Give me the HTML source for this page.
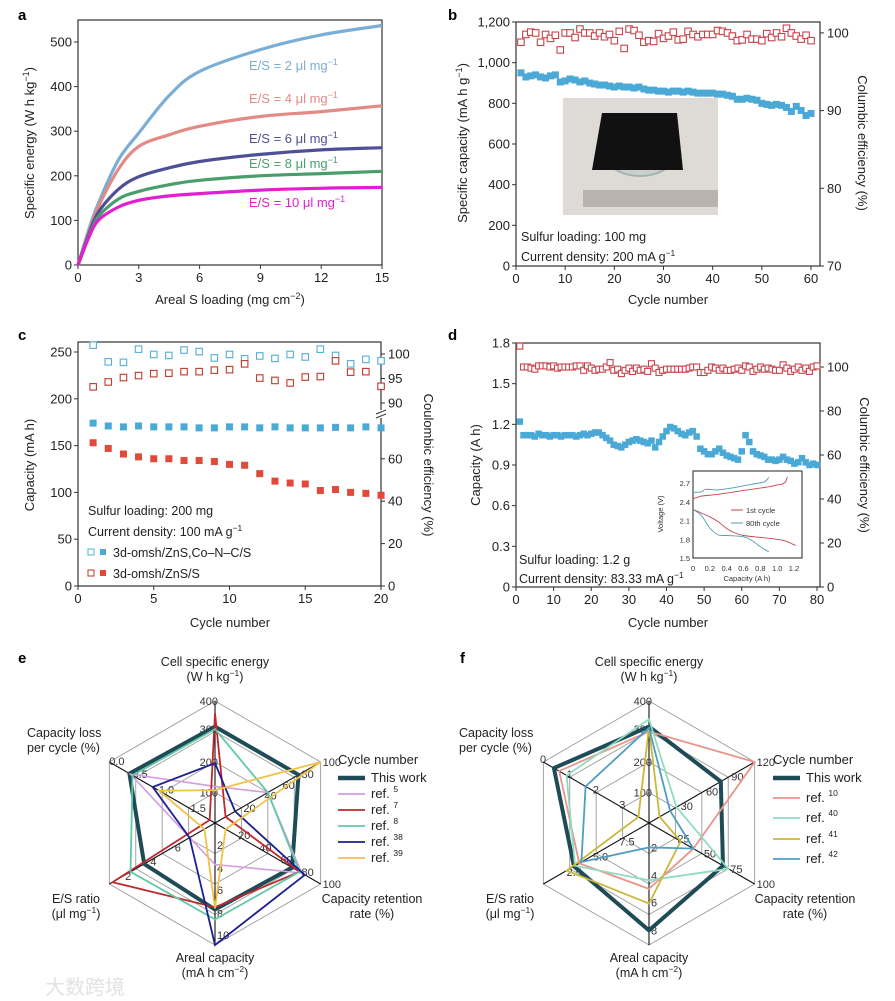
<!DOCTYPE html>
<html><head><meta charset="utf-8"><style>
html,body{margin:0;padding:0;background:#fff;}
svg{display:block;font-family:"Liberation Sans","Noto Sans CJK SC",sans-serif;}
</style></head><body>
<svg id="fig" width="895" height="1001" viewBox="0 0 895 1001" xmlns="http://www.w3.org/2000/svg">
<rect x="0" y="0" width="895" height="1001" fill="#fff"/>
<text x="45" y="994" font-size="20" fill="#e2e2e2">大数跨境</text>
<g font-weight="bold" font-size="15" fill="#000">
<text x="18" y="20">a</text>
<text x="448" y="20">b</text>
<text x="18" y="340">c</text>
<text x="448" y="340">d</text>
<text x="18" y="663">e</text>
<text x="460" y="663">f</text>
</g>
<g font-size="13" fill="#222">
<text transform="translate(34,143) rotate(-90)" text-anchor="middle">Specific energy (W h kg<tspan dy="-5" font-size="9">−1</tspan><tspan dy="5">)</tspan></text>
<text x="230" y="304" text-anchor="middle">Areal S loading (mg cm<tspan dy="-5" font-size="9">−2</tspan><tspan dy="5">)</tspan></text>
<text transform="translate(467,143) rotate(-90)" text-anchor="middle">Specific capacity (mA h g<tspan dy="-5" font-size="9">−1</tspan><tspan dy="5">)</tspan></text>
<text transform="translate(858,143) rotate(90)" text-anchor="middle">Columbic efficiency (%)</text>
<text x="668" y="304" text-anchor="middle">Cycle number</text>
<text transform="translate(34,465) rotate(-90)" text-anchor="middle">Capacity (mA h)</text>
<text transform="translate(424,465) rotate(90)" text-anchor="middle">Coulombic efficiency (%)</text>
<text x="230" y="627" text-anchor="middle">Cycle number</text>
<text transform="translate(480,465) rotate(-90)" text-anchor="middle">Capacity (A h)</text>
<text transform="translate(860,465) rotate(90)" text-anchor="middle">Columbic efficiency (%)</text>
<text x="668" y="627" text-anchor="middle">Cycle number</text>
</g>
<g font-size="12.5" fill="#222">
<text x="521" y="241">Sulfur loading: 100 mg</text>
<text x="521" y="261">Current density: 200 mA g<tspan dy="-5" font-size="8.5">−1</tspan></text>
<text x="88" y="515">Sulfur loading: 200 mg</text>
<text x="88" y="536">Current density: 100 mA g<tspan dy="-5" font-size="8.5">−1</tspan></text>
<text x="113" y="557">3d-omsh/ZnS,Co–N–C/S</text>
<text x="113" y="578">3d-omsh/ZnS/S</text>
<text x="519" y="564">Sulfur loading: 1.2 g</text>
<text x="519" y="583">Current density: 83.33 mA g<tspan dy="-5" font-size="8.5">−1</tspan></text>
</g>
<g id="layer"></g>
</svg>
<script>
// ---------- DATA ----------
const aX=[0,0.5,1,2,3,4.5,6,9,12,15];
const aES2=[0,75,138,236,296,380,434,483,516,537];
const aES4=[0,70,130,215,266,292,311,333,344,357];
const aES6=[0,65,118,170,198,218,232,248,258,263];
const aES8=[0,60,108,148,165,180,190,200,205,210];
const aES10=[0,58,100,130,145,155,160,168,172,174];
const aLabels=["E/S = 2 μl mg","E/S = 4 μl mg","E/S = 6 μl mg","E/S = 8 μl mg","E/S = 10 μl mg"];
const aXTicks=[0,3,6,9,12,15];
const aYTicks=[0,100,200,300,400,500];

const bCap=[950,930,935,940,930,925,935,940,905,910,920,915,905,910,900,895,890,890,885,880,885,880,880,875,880,870,865,865,860,860,855,860,860,855,860,855,850,850,850,850,845,845,840,835,820,820,825,820,815,800,795,790,795,790,780,760,785,765,740,750];
const bCE=[98.8,99.8,100.1,100,98.8,99.8,99.3,99.7,97.8,100,100,99.4,100.5,100,100,99.6,100,99.5,99.8,99,100.2,98,100.5,100.3,99.7,98.8,99,98.9,99.9,99.3,99.6,100.1,99.1,99.2,100.2,99.8,99.5,99.8,99.8,99.8,100.3,100.2,100,99.6,99,99.1,99.8,99.2,99.2,99,99.9,99.4,100,99.5,100.6,100,99.6,99.2,99.7,99];
const bXTicks=[0,10,20,30,40,50,60];
const bYTicks=[0,200,400,600,800,1000,1200];
const bY2Ticks=[70,80,90,100];

const cCapCo=[174,171,170,171,170,170,170,169,169,170,170,169,170,169,169,169,169.5,169,170,169];
const cCapZn=[153,147,141,138,136,136,134,134,133,130,129,120,112,110,109,102,103,100,99,97];
const cCECo=[101.8,98.4,98.3,101,99.9,99.7,100.8,100.5,99.2,99.9,99,99.6,99.1,99.9,99.4,101,99.7,98,98.9,98.6];
const cCEZn=[93.3,94.3,95.2,95.6,96,96.1,96.4,96.4,96.7,96.8,98,95.1,94.6,94.1,95.3,95.4,98.6,96.3,96.4,93.4];
const cXTicks=[0,5,10,15,20];
const cYTicks=[0,50,100,150,200,250];
const cY2Ticks=[0,20,40,60,90,95,100];

const dCap=[1.22,1.12,1.12,1.12,1.11,1.13,1.12,1.12,1.11,1.12,1.12,1.11,1.12,1.12,1.12,1.11,1.12,1.13,1.12,1.13,1.14,1.14,1.12,1.10,1.08,1.05,1.04,1.03,1.05,1.07,1.08,1.09,1.08,1.07,1.06,1.08,1.03,1.07,1.11,1.15,1.18,1.17,1.15,1.13,1.12,1.14,1.15,1.11,1.02,1.0,0.98,0.98,1.0,1.02,0.99,0.97,0.96,0.95,0.94,1.0,1.12,1.07,1.0,0.98,0.97,0.96,0.94,0.94,0.93,0.94,0.96,0.94,0.93,0.91,0.92,0.95,0.92,0.9,0.91,0.9];
const dCE=[109.5,100,100,99.5,99,100.5,100.5,100.5,100,100.5,99.5,100,100,100,100,100.5,100.5,98.5,100.5,99.5,98.5,99,99,100,102,98.5,99,97,98.5,99.5,98,99.5,98.5,99,98,101.5,99.5,97.5,98.5,99,99,99,99,99,99,99.5,100,100,97.5,97.5,98.5,100,99.5,98.5,99.5,98.5,98.5,99,99.5,98.5,100.5,100,98,99,100,99,99.5,99,98.5,98.5,101,99.5,98,99,100,98.5,99.5,98,100,100.5];
const dXTicks=[0,10,20,30,40,50,60,70,80];
const dYTicks=[0,0.3,0.6,0.9,1.2,1.5,1.8];
const dY2Ticks=[0,20,40,60,80,100];

const inCap1C=[0,0.05,0.1,0.3,0.5,0.7,0.9,1.0,1.05,1.1,1.12];
const inV1C=[2.45,2.47,2.49,2.52,2.56,2.6,2.64,2.67,2.68,2.72,2.8];
const inCap80C=[0,0.1,0.15,0.3,0.5,0.7,0.85,0.9];
const inV80C=[2.55,2.56,2.6,2.59,2.63,2.68,2.72,2.79];
const inCap1D=[0,0.1,0.2,0.3,0.4,0.5,0.6,0.8,1.0,1.1,1.22];
const inV1D=[2.28,2.22,2.16,2.08,1.97,1.9,1.86,1.83,1.8,1.77,1.7];
const inCap80D=[0,0.1,0.2,0.3,0.4,0.6,0.7,0.8,0.9];
const inV80D=[2.28,2.18,1.98,1.87,1.86,1.84,1.78,1.68,1.6];
const inXTicks=[0,0.2,0.4,0.6,0.8,1.0,1.2];
const inYTicks=[1.5,1.8,2.1,2.4,2.7];

const eThis=[0.79,0.79,0.73,0.71,0.67,0.81];
const eRef5=[0.3,0.5,0.82,0.34,0.24,0.8];
const eRef7=[0.9,0.1,0.8,0.69,0.97,0.05];
const eRef8=[0.77,0.5,0.8,0.79,0.8,0.78];
const eRef38=[0.49,0.19,0.85,1.0,0.24,0.59];
const eRef39=[0.27,1.0,0.1,0.7,0.1,0.53];
const fThis=[0.79,0.68,0.7,0.88,0.71,0.9];
const fRef10=[0.75,1.0,0.42,0.54,0.66,0.85];
const fRef40=[0.85,0.26,0.75,0.47,0.7,0.78];
const fRef41=[0.78,0.1,0.3,0.66,0.78,0.1];
const fRef42=[0.78,0.2,0.42,0.2,0.64,0.6];
const eRefNums=["","5","7","8","38","39"];
const fRefNums=["","10","40","41","42"];

// ---------- HELPERS ----------
const NS="http://www.w3.org/2000/svg";
const layer=document.getElementById('layer');
function mk(tag,attrs,parent){const e=document.createElementNS(NS,tag);for(const k in attrs)e.setAttribute(k,attrs[k]);(parent||layer).appendChild(e);return e;}
function crPath(pts){let d="M"+pts[0][0]+","+pts[0][1];for(let i=0;i<pts.length-1;i++){const p0=pts[Math.max(i-1,0)],p1=pts[i],p2=pts[i+1],p3=pts[Math.min(i+2,pts.length-1)];const c1=[p1[0]+(p2[0]-p0[0])/6,p1[1]+(p2[1]-p0[1])/6],c2=[p2[0]-(p3[0]-p1[0])/6,p2[1]-(p3[1]-p1[1])/6];d+=" C"+c1[0].toFixed(1)+","+c1[1].toFixed(1)+" "+c2[0].toFixed(1)+","+c2[1].toFixed(1)+" "+p2[0].toFixed(1)+","+p2[1].toFixed(1);}return d;}

function frame(x0,y0,x1,y1,name){
  const r=mk('rect',{x:x0,y:y0,width:x1-x0,height:y1-y0,fill:'none',stroke:'#333','stroke-width':1.2});
  
  
}
function xTicks(ticks,sx,y,fmt,pfx){ticks.forEach(v=>{const x=sx(v);mk('line',{x1:x,x2:x,y1:y,y2:y+4,stroke:'#333'});const t=mk('text',{x:x,y:y+17,'text-anchor':'middle','font-size':13,fill:'#222'});t.textContent=fmt?fmt(v):v;
  
  });}
function yTicks(ticks,sy,x,fmt,pfx,right){ticks.forEach(v=>{const y=sy(v);mk('line',{x1:x,x2:right?x+4:x-4,y1:y,y2:y,stroke:'#333'});const t=mk('text',{x:right?x+7:x-6,y:y+4.5,'text-anchor':right?'start':'end','font-size':13,fill:'#222'});t.textContent=fmt?fmt(v):v;
  
  });}
function squares(ys,sx,sy,hollow,color,name,s){const g=mk('g',{});
  
  
  ys.forEach((v,i)=>{const x=sx(i+1),y=sy(v);const r=mk('rect',{x:(x-s/2).toFixed(1),y:(y-s/2).toFixed(1),width:s,height:s,fill:hollow?'#fff':color,stroke:color,'stroke-width':hollow?1.1:0.5},g);
  
  });}

// ---------- PANEL A ----------
{const sx=v=>78+v/15*304, sy=v=>265-v/500*223;
frame(78,20,382,265,'a-plot-frame');
xTicks(aXTicks,sx,265,null,'a');yTicks(aYTicks,sy,78,null,'a');
const series=[aES2,aES4,aES6,aES8,aES10];const cols=['#7aaed6','#e38a85','#4e4f96','#4a9e6c','#e020d0'];
const ly=[70,103,143,168,207];
series.forEach((s,k)=>{const p=mk('path',{d:crPath(aX.map((x,i)=>[sx(x),sy(s[i])])),fill:'none',stroke:cols[k],'stroke-width':3.2});
  
  
  const t=mk('text',{x:249,y:ly[k],'font-size':13,fill:cols[k]});t.innerHTML=aLabels[k]+'<tspan dy="-5" font-size="9">−1</tspan>';
  
  });}

// ---------- PANEL B ----------
{const sx=v=>516+v/60*295, sy=v=>266-v/1200*244, sy2=v=>266-(v-70)*7.77;
frame(516,22,820,266,'b-plot-frame');
xTicks(bXTicks,sx,266,null,'b');yTicks(bYTicks,sy,516,v=>v>=1000?v.toLocaleString('en-US'):v,'b');yTicks(bY2Ticks,sy2,820,null,'b2',true);
const ph=mk('g',{});


mk('rect',{x:563,y:98,width:155,height:117,fill:'#dedad6'},ph);
mk('ellipse',{cx:640,cy:152,rx:36,ry:24,fill:'#c9cfcd',stroke:'#9fb5b3','stroke-width':2},ph);
mk('polygon',{points:'602,113 677,113 683,170 592,170',fill:'#111'},ph);
mk('rect',{x:583,y:190,width:135,height:17,fill:'#b8b3ad'},ph);
squares(bCE,sx,sy2,true,'#c9434b','b-coulombic-efficiency',6.5);
squares(bCap,sx,sy,false,'#4ba9d6','b-specific-capacity',6.5);}

// ---------- PANEL C ----------
{const sx=v=>78+v/20*303, sy=v=>586-v*0.936, sy2=v=>v>=89?354+(100-v)*4.9:586-v*2.12;
frame(78,342,381,586,'c-plot-frame');
xTicks(cXTicks,sx,586,null,'c');yTicks(cYTicks,sy,78,null,'c');yTicks(cY2Ticks,sy2,381,null,'c2',true);
mk('rect',{x:376,y:410,width:10,height:8,fill:'#fff'});
mk('line',{x1:376,y1:414,x2:386,y2:410,stroke:'#333'});mk('line',{x1:376,y1:418,x2:386,y2:414,stroke:'#333'});
squares(cCECo,sx,sy2,true,'#55aed6','c-ce-co-n-c',6.5);
squares(cCEZn,sx,sy2,true,'#c0392b','c-ce-zns',6.5);
squares(cCapCo,sx,sy,false,'#4ba9d6','c-capacity-co-n-c',6.5);
squares(cCapZn,sx,sy,false,'#e2493a','c-capacity-zns',6.5);
const lg=mk('g',{});


mk('rect',{x:88,y:549,width:6,height:6,fill:'#fff',stroke:'#55aed6'},lg);mk('rect',{x:100,y:549,width:6,height:6,fill:'#4ba9d6'},lg);
mk('rect',{x:88,y:570,width:6,height:6,fill:'#fff',stroke:'#c0392b'},lg);mk('rect',{x:100,y:570,width:6,height:6,fill:'#e2493a'},lg);}

// ---------- PANEL D ----------
{const sx=v=>516+v/80*301, sy=v=>587-v/1.8*244, sy2=v=>587-v*2.2;
frame(516,343,820,587,'d-plot-frame');
xTicks(dXTicks,sx,587,null,'d');yTicks(dYTicks,sy,516,v=>v===0?'0':v.toFixed(1),'d');yTicks(dY2Ticks,sy2,820,null,'d2',true);
squares(dCE,sx,sy2,true,'#c9434b','d-coulombic-efficiency',6);
squares(dCap,sx,sy,false,'#4ba9d6','d-capacity',6);
const ix=v=>693+v/1.2*101, iy=v=>558-(v-1.5)/1.2*75;
const ins=mk('rect',{x:693,y:471,width:109,height:87,fill:'#fff',stroke:'#222','stroke-width':1});


inXTicks.forEach(v=>{const t=mk('text',{x:ix(v),y:571,'text-anchor':'middle','font-size':7.5,fill:'#333'});t.textContent=v===0?'0':v.toFixed(1);
  
  });
inYTicks.forEach(v=>{const t=mk('text',{x:690,y:iy(v)+3,'text-anchor':'end','font-size':7.5,fill:'#333'});t.textContent=v.toFixed(1);
  
  });
const it=mk('text',{x:747,y:581,'text-anchor':'middle','font-size':7.5,fill:'#333'});it.textContent='Capacity (A h)';


const iyt=mk('text',{transform:'translate(663,514) rotate(-90)','text-anchor':'middle','font-size':7.5,fill:'#333'});iyt.textContent='Voltage (V)';


[[inCap1C,inV1C,'#c9434b','d-inset-1st-charge'],[inCap1D,inV1D,'#c9434b','d-inset-1st-discharge'],[inCap80C,inV80C,'#4a9fb0','d-inset-80th-charge'],[inCap80D,inV80D,'#4a9fb0','d-inset-80th-discharge']].forEach(s=>{
  const p=mk('path',{d:crPath(s[0].map((c,i)=>[ix(c),iy(s[1][i])])),fill:'none',stroke:s[2],'stroke-width':0.9});
  
  });
mk('line',{x1:731,x2:743,y1:510,y2:510,stroke:'#c9434b'});mk('line',{x1:731,x2:743,y1:523,y2:523,stroke:'#4a9fb0'});
const l1=mk('text',{x:746,y:513,'font-size':7.5,fill:'#333'});l1.textContent='1st cycle';


const l2=mk('text',{x:746,y:526,'font-size':7.5,fill:'#333'});l2.textContent='80th cycle';

}

// ---------- RADARS ----------
function radar(cx,cy,R,series,cols,widths,names,tickSets,axisLabels,legendX,legendYs,refNums,pfx){
  const ang=[-90,-30,30,90,150,210].map(a=>a*Math.PI/180);
  const pt=(k,f)=>[cx+f*R*Math.cos(ang[k]),cy+f*R*Math.sin(ang[k])];
  [0.25,0.5,0.75,1].forEach(f=>{const g=mk('polygon',{points:ang.map((a,k)=>pt(k,f).join(',')).join(' '),fill:'none',stroke:'#9a9a9a','stroke-width':0.9});
    
    });
  ang.forEach((a,k)=>{const p=pt(k,1);const l=mk('line',{x1:cx,y1:cy,x2:p[0],y2:p[1],stroke:'#111','stroke-width':1.1});
    
    });
  tickSets.forEach((ts,k)=>{ts[0].forEach((v,i)=>{const p=pt(k,ts[1][i]);const t=mk('text',{x:k==0?p[0]+3:p[0]+2,y:p[1]+4,'font-size':11,fill:'#333','text-anchor':k==0?'end':'start'});
    t.textContent=v;
    
    });});
  series.forEach((s,j)=>{const p=mk('polygon',{points:s.map((f,k)=>pt(k,f).map(v=>v.toFixed(1)).join(',')).join(' '),fill:'none',stroke:cols[j],'stroke-width':widths[j]});
    
    });
  axisLabels.forEach(a=>{const t=mk('text',{x:a[0],y:a[1],'text-anchor':a[3]||'middle','font-size':12.5,fill:'#222'});t.innerHTML=a[2];
    
    });
  const ct=mk('text',{x:legendX,y:legendYs[0]-18,'font-size':13,fill:'#222'});ct.textContent='Cycle number';
  
  
  series.forEach((s,j)=>{const y=legendYs[j];mk('line',{x1:legendX,x2:legendX+27,y1:y-4,y2:y-4,stroke:cols[j],'stroke-width':j==0?4.5:1.8});
    const t=mk('text',{x:legendX+33,y:y,'font-size':13,fill:'#222'});t.innerHTML=j==0?'This work':'ref. <tspan dy="-6" font-size="8.5">'+refNums[j]+'</tspan>';
    
    });
}
const sup=s=>'<tspan dy="-5" font-size="8.5">'+s+'</tspan><tspan dy="5">)</tspan>';
radar(215,823,122,[eThis,eRef5,eRef7,eRef8,eRef38,eRef39],['#1f4b57','#d59ce0','#c1272d','#5fc9a8','#1c1f8f','#f0c24a'],[4,1.6,1.8,1.8,1.8,1.8],
 ['e-series-this-work','e-series-ref5','e-series-ref7','e-series-ref8','e-series-ref38','e-series-ref39'],
 [[[100,200,300,400],[0.25,0.5,0.77,1]],[[20,40,60,80,100],[0.25,0.45,0.62,0.8,1]],[[20,40,60,80,100],[0.2,0.4,0.6,0.8,1]],[[2,4,6,8,10],[0.18,0.37,0.55,0.74,0.92]],[[6,4,2],[0.4,0.63,0.87]],[['1.5','1.0','0.5','0.0'],[0.25,0.55,0.8,1.02]]],
 [[215,666,'Cell specific energy'],[215,681,'(W h kg'+sup('−1')],[27,737,'Capacity loss','start'],[27,752,'per cycle (%)','start'],[372,903,'Capacity retention'],[372,918,'rate (%)'],[215,962,'Areal capacity'],[215,977,'(mA h cm'+sup('−2')],[76,903,'E/S ratio'],[76,918,'(μl mg'+sup('−1')]],
 338,[782,798,814,830,846,862],eRefNums,'e');
radar(649,823,122,[fThis,fRef10,fRef40,fRef41,fRef42],['#1f4b57','#e8958c','#8fdcc0','#c9b83a','#4f9dc4'],[4,1.8,1.8,1.8,1.8],
 ['f-series-this-work','f-series-ref10','f-series-ref40','f-series-ref41','f-series-ref42'],
 [[[100,200,300,400],[0.25,0.5,0.77,1]],[[30,60,90,120],[0.28,0.52,0.76,1]],[[25,50,75,100],[0.25,0.5,0.75,1]],[[2,4,6,8],[0.2,0.43,0.65,0.88]],[['7.5','5.0','2.5'],[0.3,0.55,0.8]],[[3,2,1,0],[0.3,0.55,0.8,1.05]]],
 [[649,666,'Cell specific energy'],[649,681,'(W h kg'+sup('−1')],[459,737,'Capacity loss','start'],[459,752,'per cycle (%)','start'],[805,903,'Capacity retention'],[805,918,'rate (%)'],[649,962,'Areal capacity'],[649,977,'(mA h cm'+sup('−2')],[510,903,'E/S ratio'],[510,918,'(μl mg'+sup('−1')]],
 773,[782,802,822,843,863],fRefNums,'f');
</script>
</body></html>
